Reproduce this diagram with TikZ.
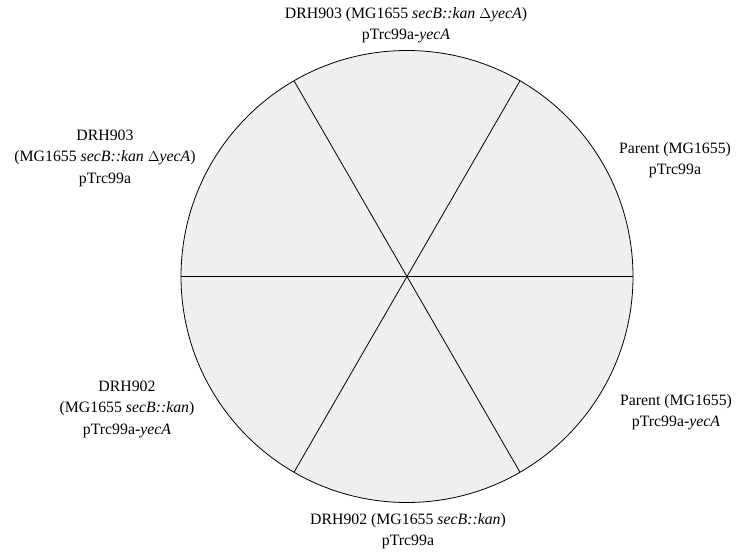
\documentclass[tikz,border=0pt]{standalone}
\usepackage{fontspec}
\setmainfont{Liberation Serif}
\usepackage{xcolor}
\usetikzlibrary{calc}
\definecolor{wedge}{HTML}{EFEFEF}
\definecolor{rim}{HTML}{000000}
\tikzset{
  disc/.style={draw=rim, fill=wedge, line width=0.8pt},
  spoke/.style={draw=rim, line width=0.8pt},
  lab/.style={align=center, font=\fontsize{15.8}{21.5}\selectfont, inner sep=0pt},
}
\begin{document}
\begin{tikzpicture}[x=1pt,y=1pt]
  \useasboundingbox (0,0) rectangle (741,552);
  \def\r{226}
  \coordinate (O) at (407,275.5);

  \draw[disc] (O) circle (\r);
  \foreach \a in {0,60,...,300}
    \draw[spoke] (O) -- ($(O)+(\a:\r)$);

  \node[lab] (top)   at (406,527) {DRH903 (MG1655 \textit{secB::kan} $\Delta$\textit{yecA})\\pTrc99a-\textit{yecA}};
  \node[lab] (upl)   at (105,394) {DRH903\\(MG1655 \textit{secB::kan} $\Delta$\textit{yecA})\\pTrc99a};
  \node[lab] (upr)   at (675,392) {Parent (MG1655)\\pTrc99a};
  \node[lab] (lowr)  at (676,140) {Parent (MG1655)\\pTrc99a-\textit{yecA}};
  \node[lab] (lowl)  at (127,143) {DRH902\\(MG1655 \textit{secB::kan})\\pTrc99a-\textit{yecA}};
  \node[lab] (bot)   at (408,21)  {DRH902 (MG1655 \textit{secB::kan})\\pTrc99a};
\end{tikzpicture}
\end{document}
